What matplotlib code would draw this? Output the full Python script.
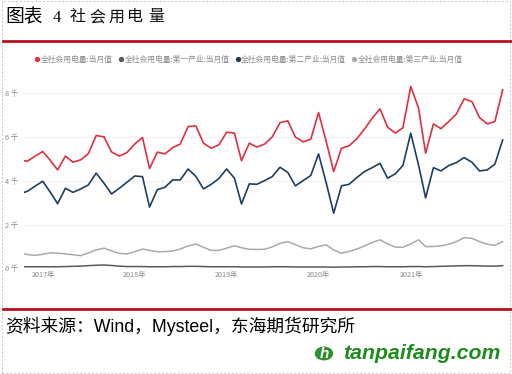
import numpy as np
import pandas as pd
import matplotlib
matplotlib.use('Agg')
import matplotlib.pyplot as plt
import matplotlib.dates as mdates
from matplotlib.lines import Line2D
from matplotlib.patches import Rectangle, Circle

plt.rcParams['font.family'] = ['Noto Sans CJK SC', 'DejaVu Sans']

# monthly values, 亿千瓦时 shown in thousands (千), Sep 2016 .. Dec 2021
months = pd.date_range('2016-09-30', '2021-12-31', freq='ME')

total = [4.94, 4.90, 5.12, 5.34,
         4.92, 4.50, 5.13, 4.85, 4.96, 5.24, 6.07, 6.01, 5.32, 5.13, 5.29, 5.68,
         5.98, 4.56, 5.31, 5.23, 5.52, 5.68, 6.48, 6.51, 5.72, 5.49, 5.64, 6.22,
         6.18, 4.92, 5.72, 5.54, 5.68, 6.00, 6.66, 6.74, 6.00, 5.78, 5.90, 7.12,
         5.77, 4.42, 5.49, 5.60, 5.92, 6.36, 6.86, 7.29, 6.45, 6.18, 6.43, 8.31,
         7.32, 5.26, 6.60, 6.38, 6.71, 7.05, 7.75, 7.62, 6.89, 6.60, 6.71, 8.16]

primary = [0.08, 0.07, 0.07, 0.07,
           0.07, 0.07, 0.08, 0.09, 0.10, 0.12, 0.14, 0.15, 0.13, 0.10, 0.08, 0.08,
           0.08, 0.07, 0.07, 0.07, 0.08, 0.08, 0.09, 0.09, 0.08, 0.07, 0.07, 0.07,
           0.07, 0.06, 0.06, 0.06, 0.06, 0.07, 0.07, 0.07, 0.06, 0.06, 0.06, 0.06,
           0.06, 0.05, 0.06, 0.06, 0.07, 0.07, 0.08, 0.08, 0.07, 0.07, 0.07, 0.08,
           0.08, 0.07, 0.08, 0.09, 0.10, 0.11, 0.12, 0.12, 0.11, 0.10, 0.10, 0.12]

secondary = [3.40, 3.52, 3.75, 3.98,
             3.46, 2.95, 3.66, 3.47, 3.63, 3.81, 4.35, 3.89, 3.40, 3.66, 3.93, 4.22,
             4.19, 2.80, 3.60, 3.70, 4.04, 4.04, 4.54, 4.20, 3.63, 3.84, 4.10, 4.54,
             4.12, 2.94, 3.86, 3.84, 4.01, 4.19, 4.62, 4.38, 3.77, 4.01, 4.24, 5.23,
             3.88, 2.52, 3.77, 3.84, 4.15, 4.42, 4.60, 4.80, 4.12, 4.32, 4.70, 6.18,
             4.72, 3.22, 4.60, 4.45, 4.70, 4.83, 5.06, 4.85, 4.45, 4.50, 4.76, 5.87]

tertiary = [0.72, 0.63, 0.59, 0.64,
            0.71, 0.69, 0.66, 0.62, 0.58, 0.70, 0.84, 0.92, 0.80, 0.68, 0.66, 0.76,
            0.88, 0.82, 0.76, 0.76, 0.79, 0.88, 1.02, 1.11, 0.96, 0.82, 0.82, 0.92,
            1.03, 0.94, 0.87, 0.86, 0.87, 0.98, 1.14, 1.22, 1.08, 0.94, 0.89, 1.00,
            1.07, 0.84, 0.69, 0.77, 0.88, 1.02, 1.18, 1.30, 1.12, 0.97, 0.96, 1.12,
            1.30, 0.99, 1.00, 1.03, 1.10, 1.22, 1.40, 1.37, 1.22, 1.10, 1.05, 1.22]

series_names = ['全社会用电量:当月值', '全社会用电量:第一产业:当月值',
                '全社会用电量:第二产业:当月值', '全社会用电量:第三产业:当月值']
colors = ['#e0303f', '#5a5a5a', '#1d3f63', '#aaaaaa']
ytick_vals = [0, 2, 4, 6, 8]
ytick_labels = ['0 千', '2 千', '4 千', '6 千', '8 千']
years = [2017, 2018, 2019, 2020, 2021]

W, H = 512, 374
fig = plt.figure(figsize=(W / 100, H / 100), dpi=100)

# axes placed in pixel terms
ax_l, ax_r, ax_b, ax_t = 24, 505, 268.3, 75.8
ax = fig.add_axes([ax_l / W, 1 - ax_b / H, (ax_r - ax_l) / W, (ax_b - ax_t) / H])

ax.plot(months, tertiary, color=colors[3], lw=1.1)
ax.plot(months, primary, color=colors[1], lw=1.1)
ax.plot(months, secondary, color=colors[2], lw=1.2)
ax.plot(months, total, color=colors[0], lw=1.2)

# x scale: 1 Jan 2017 at 43px, 92px per year
jan17 = mdates.date2num(pd.Timestamp('2017-01-01'))
per_px = 365.25 / 92
ax.set_xlim(jan17 - (43 - ax_l) * per_px, jan17 + (ax_r - 43) * per_px)
ax.set_ylim(0, 8.8)

ax.set_xticks([pd.Timestamp(f'{y}-01-01') for y in years])
ax.set_xticklabels([f'{y}年' for y in years], fontsize=5.2, color='#8a8a8a')
ax.set_yticks(ytick_vals)
ax.set_yticklabels(ytick_labels, fontsize=5.3, color='#8a8a8a')
ax.tick_params(axis='both', length=0)
ax.tick_params(axis='y', pad=4)
ax.tick_params(axis='x', pad=2)
ax.grid(axis='y', color='#efefef', lw=0.6)
ax.set_axisbelow(True)
for s in ax.spines.values():
    s.set_visible(False)

# legend
handles = [Line2D([], [], marker='o', ls='none', color=c, markersize=2.8) for c in colors]
fig.legend(handles, series_names, loc='center', bbox_to_anchor=(249 / W, 1 - 60 / H),
           ncol=4, frameon=False, fontsize=5.6, labelcolor='#8a8a8a',
           handletextpad=0.15, columnspacing=0.75, handlelength=0.6, borderaxespad=0)

# title
fig.text(5 / W, 1 - 17 / H, '图表', fontsize=13.5, color='black', va='center')
fig.text(53 / W, 1 - 17.5 / H, '4', fontsize=12, color='black', va='center',
         family=['Liberation Serif', 'DejaVu Serif'])
for ch, xp in zip('社会用电量', [70, 89, 108, 127, 148]):
    fig.text(xp / W, 1 - 17 / H, ch, fontsize=11.5, color='#111111', va='center')

# red rules
fig.add_artist(Line2D([3 / W, 511 / W], [1 - 41 / H, 1 - 41 / H], color='#b3131b', lw=2.0))
fig.add_artist(Line2D([3 / W, 511 / W], [1 - 308.7 / H, 1 - 308.7 / H], color='#b3131b', lw=2.0))

# source
fig.text(5 / W, 1 - 326 / H, '资料来源：Wind，Mysteel，东海期货研究所', fontsize=12.8,
         color='black', va='center', family=['Liberation Sans', 'Noto Sans CJK SC'])

# watermark
fig.add_artist(Circle((324 / W, 1 - 353.5 / H), 8.5 / W, transform=fig.transFigure,
                      color='#2f8f2f', zorder=5))
fig.text(324 / W, 1 - 353.5 / H, 'h', fontsize=11, color='white', ha='center', va='center',
         weight='bold', style='italic', family=['Liberation Sans'], zorder=6)
fig.text(343 / W, 1 - 353.5 / H, 'tanpaifang.com', fontsize=15.3, color='#1e8c1e',
         va='center', weight='bold', style='italic', family=['Liberation Sans'])

# dashed frame
fig.add_artist(Rectangle((2 / W, 1 / H), 508 / W, 372 / H, transform=fig.transFigure,
                         fill=False, ec='#c4c4c4', lw=0.7, ls=(0, (2, 2))))

fig.savefig('out.png', dpi=100)
